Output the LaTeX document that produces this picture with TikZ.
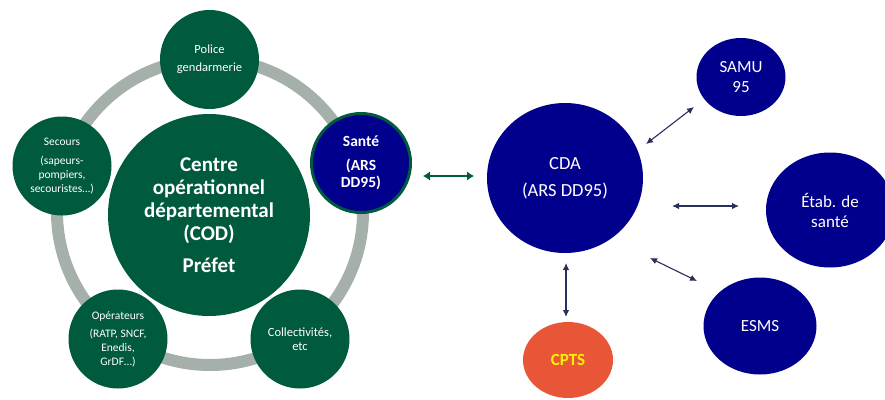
\documentclass[tikz,border=0pt]{standalone}
\usepackage{fontspec}
\setmainfont{Carlito}
\usetikzlibrary{arrows.meta,shapes.geometric,calc}
\definecolor{codgreen}{RGB}{0,90,62}
\definecolor{arsblue}{RGB}{0,0,140}
\definecolor{ringgray}{RGB}{166,176,170}
\definecolor{cptsorange}{RGB}{232,85,55}
\definecolor{arrownavy}{RGB}{42,46,90}
\begin{document}
\begin{tikzpicture}[x=1pt,y=-1pt,
  gbub/.style={circle,fill=codgreen,text=white,minimum size=99pt,inner sep=0pt,align=center,font=\fontsize{11.5}{14}\selectfont},
  gbubl/.style={gbub,font=\fontsize{12.5}{14}\selectfont},
  bbub/.style={ellipse,fill=arsblue,text=white,inner sep=0pt,align=center,font=\fontsize{17}{20}\selectfont},
  link/.style={draw=arrownavy,line width=1.1pt,{Latex[length=7pt,width=6.5pt]}-{Latex[length=7pt,width=6.5pt]}},
  glink/.style={draw=codgreen,line width=2.8pt,{Latex[length=7pt,width=9.5pt]}-{Latex[length=7pt,width=9.5pt]}}]
\useasboundingbox (0,0) rectangle (885,399);
% ring
\draw[ringgray,line width=12pt] (210,212) circle[radius=153pt];
% central
\node[circle,fill=codgreen,text=white,minimum size=202pt,inner sep=0pt,align=center,
  font=\bfseries\fontsize{21}{23}\selectfont] (cod) at (209,215)
  {Centre\\opérationnel\\départemental\\(COD)\\[9pt]Préfet};
% satellites
\node[gbubl] (police) at (209.5,59.5) {Police\\[4pt]gendarmerie};
\node[gbub] (secours) at (62,166) {Secours\\[5pt](sapeurs-\\pompiers,\\secouristes…)};
\node[gbub] (oper) at (118,339) {Opérateurs\\[4pt](RATP, SNCF,\\Enedis,\\GrDF…)};
\node[gbubl] (coll) at (300,339) {Collectivités,\\etc};
\node[circle,fill=arsblue,draw=codgreen,line width=3pt,text=white,minimum size=99pt,inner sep=0pt,align=center,
  font=\bfseries\fontsize{15.5}{17}\selectfont] (sante) at (361,163) {Santé\\[7pt](ARS\\DD95)};
% right side
\node[bbub,minimum width=156pt,minimum height=150pt,font=\fontsize{18.5}{20}\selectfont] (cda) at (565,178) {CDA\\[7pt](ARS DD95)};
\node[bbub,minimum width=89pt,minimum height=78pt] (samu) at (741,77) {SAMU\\95};
\node[bbub,minimum width=128pt,minimum height=115pt] (etab) at (830,210) {Étab. de\\santé};
\node[bbub,minimum width=113pt,minimum height=97pt] (esms) at (760,326) {ESMS};
\node[ellipse,fill=cptsorange,text=yellow,inner sep=0pt,minimum width=90pt,minimum height=76pt,
  font=\bfseries\fontsize{17}{20}\selectfont] (cpts) at (568,360) {CPTS};
% connector ends
\coordinate (g1) at ($(sante)+(62,13)$);
\coordinate (g2) at ($(cda)+(-91,-2)$);
\coordinate (s1) at ($(cda)+(81,-34)$);
\coordinate (s2) at ($(samu)+(-47,30)$);
\coordinate (e1) at ($(cda)+(107,28)$);
\coordinate (e2) at ($(etab)+(-91,-4)$);
\coordinate (m1) at ($(cda)+(85,80)$);
\coordinate (m2) at ($(esms)+(-63,-45)$);
\coordinate (c1) at ($(cda)+(1,85)$);
\coordinate (c2) at ($(cpts)+(-2,-43)$);
\draw[glink] (g1) -- (g2);
\draw[link] (s1) -- (s2);
\draw[link] (e1) -- (e2);
\draw[link] (m1) -- (m2);
\draw[link] (c1) -- (c2);
\end{tikzpicture}
\end{document}
